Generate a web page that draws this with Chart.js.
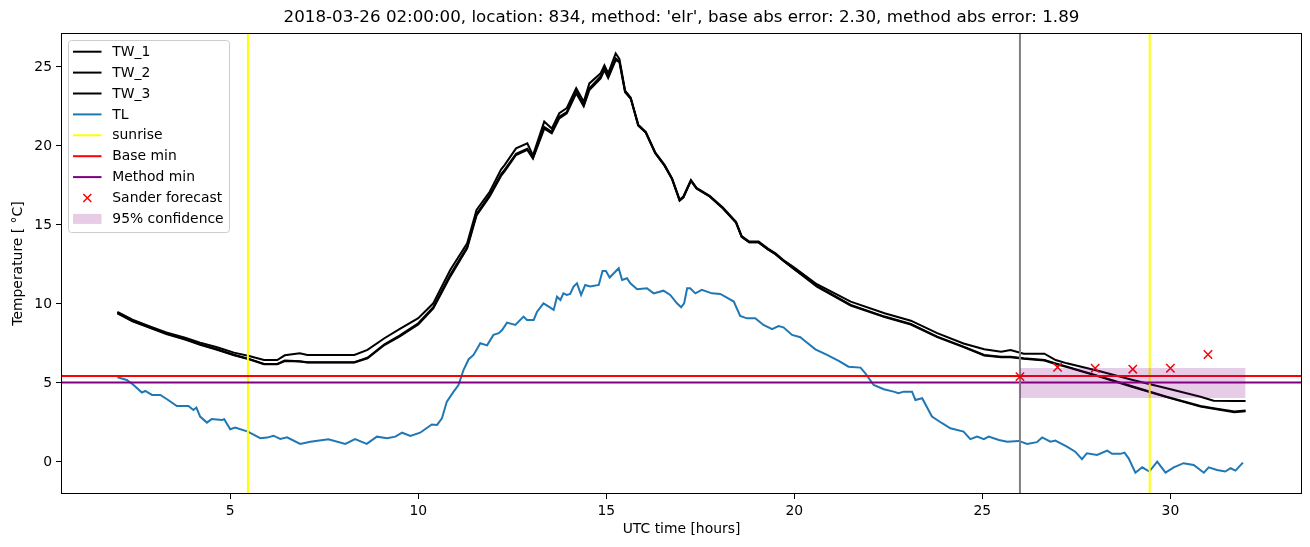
<!DOCTYPE html>
<html lang="en">
<head>
<meta charset="UTF-8">
<title>Temperature forecast</title>
<script src="https://cdn.jsdelivr.net/npm/chart.js"></script>
<style>
  body { margin: 0; background: #fff; }
  #wrap { width: 1310px; height: 547px; }
</style>
</head>
<body>
<div id="wrap"><canvas id="temp-chart" width="1310" height="547"></canvas></div>
<script>
// ---- data ----
const twHours = [2.0, 2.4, 2.9, 3.3, 3.8, 4.2, 4.65, 5.1, 5.5, 5.9,
  6.25, 6.45, 6.85, 7.05, 8.3, 8.65, 9.1, 9.5, 10.0, 10.4,
  10.85, 11.3, 11.55, 11.9, 12.2, 12.3, 12.6, 12.9, 13.05, 13.35,
  13.55, 13.75, 13.95, 14.2, 14.4, 14.55, 14.85, 14.95, 15.05, 15.25,
  15.35, 15.5, 15.65, 15.85, 16.05, 16.3, 16.55, 16.75, 16.95, 17.05,
  17.25, 17.4, 17.75, 18.1, 18.45, 18.6, 18.8, 19.05, 19.3, 19.5,
  19.7, 20.0, 20.6, 21.5, 22.4, 23.1, 23.8, 24.5, 25.05, 25.5,
  25.75, 26.1, 26.65, 26.95, 27.25, 28.15, 29.0, 29.9, 30.8, 31.15,
  31.7, 32.0];
const tw1 = [9.5, 9.0, 8.55, 8.2, 7.87, 7.55, 7.26, 6.92, 6.7, 6.45,
  6.45, 6.75, 6.88, 6.77, 6.77, 7.09, 7.83, 8.4, 9.1, 10.04,
  12.15, 13.84, 15.95, 17.1, 18.5, 18.8, 19.85, 20.17, 19.4, 21.54,
  21.1, 22.07, 22.4, 23.65, 22.8, 23.96, 24.6, 25.1, 24.6, 25.86,
  25.5, 23.5, 23.05, 21.35, 20.9, 19.6, 18.8, 17.95, 16.6, 16.8,
  17.85, 17.35, 16.85, 16.1, 15.2, 14.3, 13.95, 13.95, 13.5, 13.2,
  12.8, 12.3, 11.25, 10.15, 9.41, 8.94, 8.15, 7.5, 7.13, 6.98,
  7.09, 6.85, 6.85, 6.45, 6.24, 5.72, 5.19, 4.66, 4.13, 3.88,
  3.85, 3.85];
const tw2 = [9.4, 8.9, 8.45, 8.1, 7.75, 7.42, 7.1, 6.75, 6.5, 6.18,
  6.18, 6.39, 6.35, 6.29, 6.29, 6.56, 7.4, 7.93, 8.7, 9.72,
  11.73, 13.52, 15.6, 16.8, 18.1, 18.4, 19.43, 19.75, 19.2, 21.1,
  20.8, 21.75, 22.07, 23.33, 22.5, 23.54, 24.28, 24.8, 24.3, 25.43,
  25.3, 23.4, 23.0, 21.3, 20.85, 19.55, 18.75, 17.9, 16.55, 16.75,
  17.8, 17.3, 16.8, 16.05, 15.15, 14.25, 13.9, 13.9, 13.45, 13.15,
  12.75, 12.2, 11.15, 9.94, 9.2, 8.73, 7.93, 7.3, 6.77, 6.66,
  6.66, 6.56, 6.45, 6.24, 6.03, 5.4, 4.77, 4.13, 3.54, 3.4,
  3.19, 3.25];
const tw3 = [9.43, 8.93, 8.47, 8.12, 7.78, 7.45, 7.13, 6.78, 6.52, 6.2,
  6.2, 6.42, 6.37, 6.31, 6.31, 6.6, 7.45, 8.0, 8.78, 9.8,
  11.85, 13.6, 15.7, 16.9, 18.2, 18.5, 19.5, 19.82, 19.25, 21.2,
  20.9, 21.85, 22.15, 23.45, 22.6, 23.65, 24.4, 24.9, 24.4, 25.55,
  25.35, 23.45, 23.0, 21.3, 20.85, 19.55, 18.75, 17.9, 16.55, 16.75,
  17.8, 17.3, 16.8, 16.05, 15.15, 14.25, 13.9, 13.9, 13.45, 13.15,
  12.75, 12.2, 11.1, 9.9, 9.17, 8.7, 7.9, 7.27, 6.74, 6.63,
  6.63, 6.53, 6.42, 6.2, 6.0, 5.37, 4.74, 4.1, 3.5, 3.36,
  3.15, 3.2];

const tlHours = [2.0, 2.25, 2.43, 2.65, 2.74, 2.92, 3.14, 3.32, 3.58, 3.89,
  4.02, 4.1, 4.2, 4.38, 4.51, 4.78, 4.84, 5.0, 5.13, 5.47,
  5.8, 5.98, 6.15, 6.33, 6.51, 6.86, 7.13, 7.61, 8.06, 8.32,
  8.63, 8.9, 9.17, 9.39, 9.57, 9.79, 10.05, 10.36, 10.5, 10.63,
  10.76, 10.94, 11.07, 11.2, 11.34, 11.47, 11.65, 11.83, 12.0, 12.14,
  12.23, 12.36, 12.58, 12.8, 12.89, 13.07, 13.16, 13.33, 13.47, 13.6,
  13.69, 13.78, 13.86, 13.95, 14.04, 14.13, 14.22, 14.33, 14.44, 14.57,
  14.8, 14.9, 14.99, 15.09, 15.33, 15.42, 15.55, 15.64, 15.82, 16.08,
  16.26, 16.52, 16.7, 16.88, 16.99, 17.07, 17.15, 17.23, 17.37, 17.54,
  17.81, 18.03, 18.16, 18.39, 18.56, 18.74, 18.96, 19.18, 19.41, 19.58,
  19.71, 19.94, 20.16, 20.25, 20.56, 20.87, 21.18, 21.44, 21.76, 21.89,
  22.11, 22.38, 22.64, 22.77, 22.91, 23.13, 23.22, 23.4, 23.66, 23.93,
  24.15, 24.5, 24.68, 24.86, 25.04, 25.17, 25.44, 25.66, 25.97, 26.19,
  26.45, 26.59, 26.81, 26.94, 27.25, 27.47, 27.65, 27.78, 28.05, 28.32,
  28.45, 28.67, 28.78, 28.89, 29.07, 29.25, 29.44, 29.65, 29.87, 30.09,
  30.35, 30.62, 30.89, 31.02, 31.24, 31.46, 31.6, 31.73, 31.93];
const tl = [5.36, 5.19, 4.87, 4.39, 4.49, 4.24, 4.24, 3.97, 3.54, 3.54,
  3.29, 3.44, 2.87, 2.49, 2.72, 2.66, 2.7, 2.07, 2.17, 1.92,
  1.5, 1.54, 1.66, 1.46, 1.56, 1.14, 1.28, 1.44, 1.14, 1.44,
  1.14, 1.6, 1.5, 1.6, 1.85, 1.64, 1.85, 2.37, 2.34, 2.76,
  3.82, 4.45, 4.87, 5.8, 6.5, 6.77, 7.51, 7.38, 8.04, 8.15,
  8.35, 8.82, 8.67, 9.2, 8.99, 8.99, 9.51, 10.04, 9.83, 9.62,
  10.46, 10.25, 10.67, 10.57, 10.63, 11.1, 11.31, 10.57, 11.2, 11.1,
  11.2, 12.09, 12.09, 11.67, 12.26, 11.52, 11.63, 11.31, 10.93, 10.99,
  10.67, 10.84, 10.57, 10.04, 9.79, 10.04, 10.99, 10.99, 10.67, 10.89,
  10.67, 10.63, 10.46, 10.15, 9.24, 9.09, 9.09, 8.67, 8.4, 8.6,
  8.52, 8.04, 7.89, 7.72, 7.13, 6.77, 6.39, 6.03, 5.97, 5.61,
  4.87, 4.6, 4.45, 4.35, 4.45, 4.45, 3.92, 4.03, 2.87, 2.45,
  2.13, 1.92, 1.44, 1.6, 1.44, 1.6, 1.39, 1.28, 1.33, 1.14,
  1.25, 1.55, 1.28, 1.35, 0.97, 0.65, 0.17, 0.55, 0.44, 0.72,
  0.51, 0.51, 0.59, 0.23, -0.68, -0.34, -0.61, 0.02, -0.68, -0.34,
  -0.08, -0.19, -0.68, -0.34, -0.51, -0.61, -0.4, -0.55, -0.04];

const sunriseHours = [5.47, 29.45];
const baseMin = 5.44;
const methodMin = 5.03;
const forecastStart = 26;
const sanderHours = [26, 27, 28, 29, 30, 31];
const sanderValues = [5.4, 5.99, 5.93, 5.87, 5.93, 6.8];
const confHours = [26, 32];
const confLow = 4.05;
const confHigh = 5.95;

const xRange = [0.5, 33.5];
const yRange = [-2.03, 27.15];
const xTicks = [5, 10, 15, 20, 25, 30];
const yTicks = [0, 5, 10, 15, 20, 25];

const titleText = "2018-03-26 02:00:00, location: 834, method: 'elr', base abs error: 2.30, method abs error: 1.89";

// ---- helpers ----
const FONT = "'DejaVu Sans', sans-serif";
const pts = (xs, ys) => xs.map((x, i) => ({ x: x, y: ys[i] }));
const vline = x => [{ x: x, y: yRange[0] }, { x: x, y: yRange[1] }];
const hline = y => [{ x: xRange[0], y: y }, { x: xRange[1], y: y }];

function lineSet(label, data, color, order) {
  return {
    label: label, data: data, showLine: true, borderColor: color, backgroundColor: color,
    borderWidth: 2, pointRadius: 0, tension: 0, fill: false, order: order
  };
}

const legendItems = [
  { label: 'TW_1', kind: 'line', color: '#000000' },
  { label: 'TW_2', kind: 'line', color: '#000000' },
  { label: 'TW_3', kind: 'line', color: '#000000' },
  { label: 'TL', kind: 'line', color: '#1f77b4' },
  { label: 'sunrise', kind: 'line', color: '#ffff00' },
  { label: 'Base min', kind: 'line', color: '#ff0000' },
  { label: 'Method min', kind: 'line', color: '#800080' },
  { label: 'Sander forecast', kind: 'marker', color: '#ff0000' },
  { label: '95% confidence', kind: 'patch', color: 'rgba(128,0,128,0.2)' }
];

// frame, title, axis labels and legend drawn like matplotlib
const decor = {
  id: 'decor',
  afterDraw(chart) {
    const ctx = chart.ctx;
    const a = chart.chartArea;
    ctx.save();
    ctx.strokeStyle = '#000';
    ctx.lineWidth = 1;
    ctx.strokeRect(Math.round(a.left) + 0.5, Math.round(a.top) + 0.5,
      Math.round(a.right - a.left) - 1, Math.round(a.bottom - a.top) - 1);

    ctx.fillStyle = '#000';
    ctx.textAlign = 'center';
    ctx.textBaseline = 'middle';
    ctx.font = '16.7px ' + FONT;
    ctx.fillText(titleText, (a.left + a.right) / 2, 18);

    ctx.font = '13.9px ' + FONT;
    ctx.fillText('UTC time [hours]', (a.left + a.right) / 2, 529);
    ctx.save();
    ctx.translate(18, (a.top + a.bottom) / 2);
    ctx.rotate(-Math.PI / 2);
    ctx.fillText('Temperature [ \u00b0C]', 0, 0);
    ctx.restore();

    // legend box
    const bx = 68.5, by = 40.5, bw = 161, bh = 192, r = 3;
    ctx.beginPath();
    ctx.moveTo(bx + r, by);
    ctx.arcTo(bx + bw, by, bx + bw, by + bh, r);
    ctx.arcTo(bx + bw, by + bh, bx, by + bh, r);
    ctx.arcTo(bx, by + bh, bx, by, r);
    ctx.arcTo(bx, by, bx + bw, by, r);
    ctx.closePath();
    ctx.fillStyle = 'rgba(255,255,255,0.8)';
    ctx.fill();
    ctx.strokeStyle = '#cccccc';
    ctx.stroke();

    ctx.textAlign = 'left';
    ctx.textBaseline = 'middle';
    legendItems.forEach((it, i) => {
      const cy = 51.7 + i * 20.9;
      if (it.kind === 'line') {
        ctx.strokeStyle = it.color;
        ctx.lineWidth = 2;
        ctx.beginPath();
        ctx.moveTo(73, cy);
        ctx.lineTo(101.5, cy);
        ctx.stroke();
      } else if (it.kind === 'marker') {
        ctx.strokeStyle = it.color;
        ctx.lineWidth = 1.5;
        const s = 4, cx = 87.3;
        ctx.beginPath();
        ctx.moveTo(cx - s, cy - s); ctx.lineTo(cx + s, cy + s);
        ctx.moveTo(cx - s, cy + s); ctx.lineTo(cx + s, cy - s);
        ctx.stroke();
      } else {
        ctx.fillStyle = it.color;
        ctx.fillRect(73, cy - 5, 28.5, 10);
      }
      ctx.fillStyle = '#000';
      ctx.fillText(it.label, 112.3, cy + 0.5);
    });
    ctx.restore();
  }
};

function axis(min, max, tickValues, fitFn) {
  return {
    type: 'linear', min: min, max: max,
    afterBuildTicks: s => { s.ticks = tickValues.map(v => ({ value: v })); },
    afterFit: fitFn,
    grid: { drawOnChartArea: false, drawTicks: true, tickLength: 5, color: '#000', lineWidth: 1 },
    border: { display: false },
    ticks: { color: '#000', font: { family: FONT, size: 13.9 }, padding: 4, autoSkip: false, maxRotation: 0 }
  };
}

const datasets = [
  lineSet('TW_1', pts(twHours, tw1), '#000000', 20),
  lineSet('TW_2', pts(twHours, tw2), '#000000', 19),
  lineSet('TW_3', pts(twHours, tw3), '#000000', 18),
  lineSet('TL', pts(tlHours, tl), '#1f77b4', 17),
  lineSet('sunrise', vline(sunriseHours[0]), '#ffff00', 16),
  lineSet('sunrise', vline(sunriseHours[1]), '#ffff00', 15),
  lineSet('Base min', hline(baseMin), '#ff0000', 14),
  lineSet('Method min', hline(methodMin), '#800080', 13),
  lineSet('forecast start', vline(forecastStart), '#808080', 12),
  {
    label: 'Sander forecast', data: pts(sanderHours, sanderValues), showLine: false,
    pointStyle: 'crossRot', pointRadius: 5.9, borderColor: '#ff0000', borderWidth: 1.5, order: 11
  },
  {
    label: '95% confidence', data: confHours.map(h => ({ x: h, y: confHigh })), showLine: true,
    borderWidth: 0, pointRadius: 0, backgroundColor: 'rgba(128,0,128,0.2)',
    fill: { value: confLow }, order: 10
  }
];

new Chart(document.getElementById('temp-chart').getContext('2d'), {
  type: 'scatter',
  data: { datasets: datasets },
  options: {
    responsive: false,
    devicePixelRatio: 1,
    animation: false,
    layout: { padding: { top: 33, right: 8, left: 0, bottom: 0 } },
    plugins: { legend: { display: false }, tooltip: { enabled: false }, title: { display: false } },
    scales: {
      x: axis(xRange[0], xRange[1], xTicks, s => { s.height = 53; }),
      y: axis(yRange[0], yRange[1], yTicks, s => { s.width = 61; })
    }
  },
  plugins: [decor]
});
</script>
</body>
</html>
